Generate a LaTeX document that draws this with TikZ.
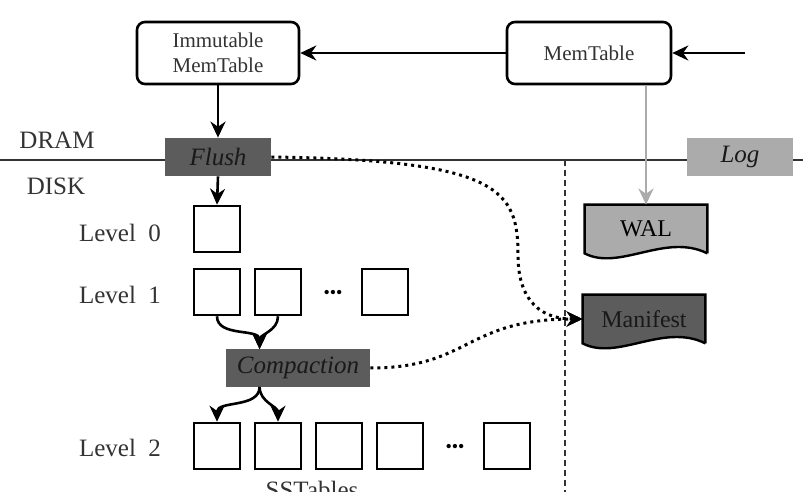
\documentclass[tikz,border=0pt]{standalone}
\usepackage{fontspec}
\setmainfont{Liberation Serif}
\usetikzlibrary{arrows.meta,backgrounds}
\definecolor{darkbox}{HTML}{5C5C5C}
\definecolor{lightbox}{HTML}{ABABAB}
\definecolor{ink}{HTML}{333333}

\begin{document}
\begin{tikzpicture}
    [
    x=0.5pt,y=-0.5pt,
    >={Stealth[length=8pt,width=7.5pt]},
    memtable/.style={draw,line width=1.3pt,rounded corners=4pt,fill=white,minimum height=31pt,align=center,text=ink,font=\fontsize{10.5}{12.5}\selectfont},
    process/.style={fill=darkbox,minimum width=53pt,minimum height=19pt,inner sep=0pt,text=black!90,font=\fontsize{12.5}{14}\selectfont\itshape},
    sstable/.style={draw,line width=1.3pt,minimum size=23pt,inner sep=0pt},
    logfile/.style={minimum width=61pt,minimum height=24pt,inner sep=0pt,font=\fontsize{12}{14}\selectfont},
    wave/.style={draw,line width=1.2pt},
    level/.style={text=ink,font=\fontsize{12.5}{14}\selectfont},
    more/.style={font=\fontsize{9}{9}\selectfont},
    flow/.style={->,line width=1.3pt},
    meta/.style={->,line width=1.5pt,dotted}
    ]
    \useasboundingbox (0,0) rectangle (810,492);

    % DRAM / DISK border
    \draw [ink,line width=0.7pt] (-5,160) -- (803,160);
    \draw [ink,line width=0.6pt,densely dashed] (565,160) -- (565,492);
    \node (dram) at (57,140) [level] {DRAM};
    \node (disk) at (56,186) [level] {DISK};

    \node (imm) at (218,53) [memtable,minimum width=81pt] {Immutable\\MemTable};
    \node (mem) at (589,53) [memtable,minimum width=82pt] {MemTable};
    \coordinate (put) at (745,53);
    \node (flush) at (218,157) [process] {Flush};
    \node (log) at (740,157) [process,fill=lightbox] {Log};

    % log files with a wavy bottom
    \node (wal) at (646,229) [logfile] {WAL};
    \node (man) at (644,319) [logfile,text=black!90] {Manifest};
    \begin{scope}[on background layer]
    \draw [wave,fill=lightbox] (wal.south east) -- (wal.north east) -- (wal.north west) -- (wal.south west)
      .. controls +(35,18) and +(-42,-21) .. (wal.south east);
    \draw [wave,fill=darkbox] (man.south east) -- (man.north east) -- (man.north west) -- (man.south west)
      .. controls +(35,18) and +(-42,-21) .. (man.south east);
    \end{scope}

    \node (lab0) at (120,233) [level] {Level\ \ 0};
    \node (l0) at (217,229) [sstable] {};

    \node (lab1) at (120,295) [level] {Level\ \ 1};
    \node (l1a) at (217,292) [sstable] {};
    \node (l1b) at (278,292) [sstable] {};
    \node (d1) at (333,294) [more] {\textbullet\textbullet\textbullet};
    \node (l1c) at (385,292) [sstable] {};

    \node (comp) at (298,368) [process,minimum width=72pt,minimum height=18.5pt] {Compaction};
    \coordinate (cin) at ([xshift=17pt]comp.north west);
    \coordinate (cout) at ([xshift=17pt]comp.south west);

    \node (lab2) at (120,448) [level] {Level\ \ 2};
    \node (l2a) at (217,446) [sstable] {};
    \node (l2b) at (278,446) [sstable] {};
    \node (l2c) at (339,446) [sstable] {};
    \node (l2d) at (400,446) [sstable] {};
    \node (d2) at (455,448) [more] {\textbullet\textbullet\textbullet};
    \node (l2e) at (507,446) [sstable] {};
    \node (sst) at (312,490) [level] {SSTables};

    \draw [flow] (put) to (mem.east);
    \draw [flow] (mem.west) to (imm.east);
    \draw [flow] (imm.south) to (flush.north);
    \draw [flow] (flush.south) to (l0.north);
    \draw [->,lightbox,line width=1.3pt] (mem.south -| wal.north) to (wal.north);

    \draw [flow] (l1a.south) to[out=-90,in=90] (cin);
    \draw [flow] (l1b.south) to[out=-90,in=90] (cin);
    \draw [flow] (cout) to[out=-90,in=90] (l2a.north);
    \draw [flow] (cout) to[out=-90,in=90] (l2b.north);

    \draw [meta] (flush.east) .. controls (500,160) and (518,190) .. (518,255) .. controls (518,305) and (545,319) .. (man.west);
    \draw [meta] (comp.east) .. controls (470,368) and (465,319) .. (man.west);
  \end{tikzpicture}
\end{document}
